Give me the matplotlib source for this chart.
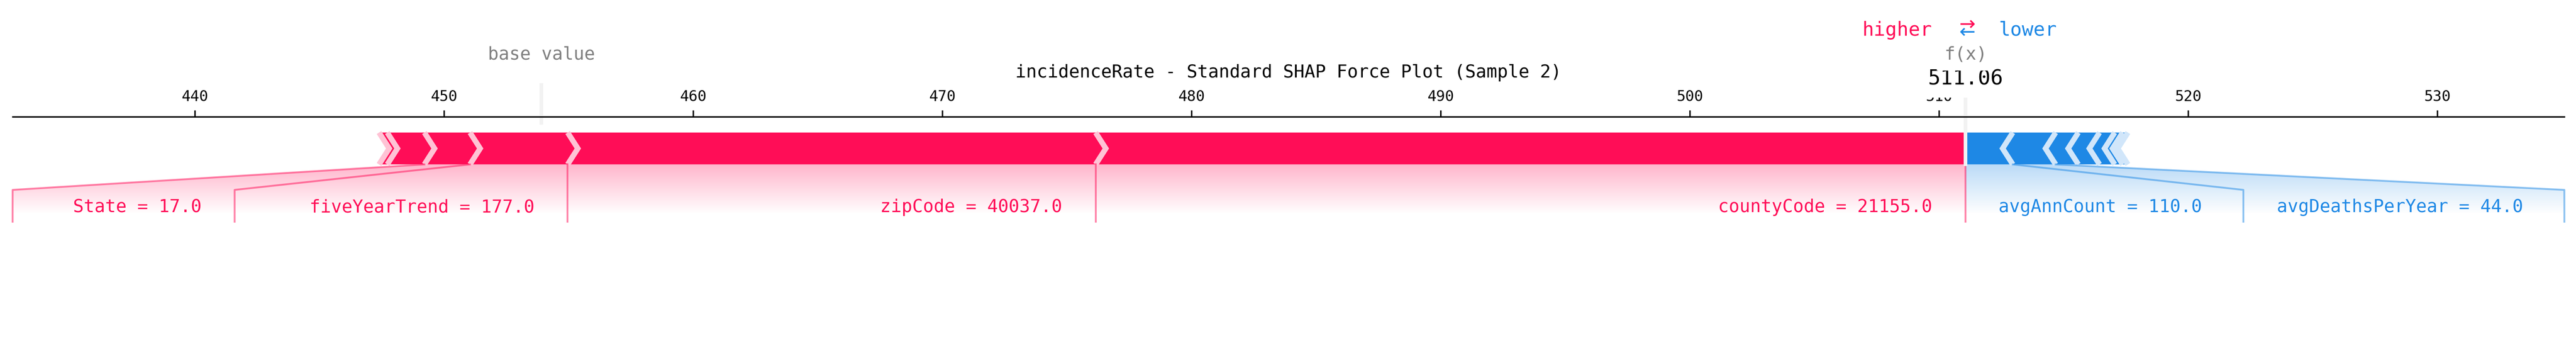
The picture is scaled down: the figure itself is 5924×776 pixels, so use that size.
import numpy as np
import matplotlib
matplotlib.use("Agg")
import matplotlib.pyplot as plt
from matplotlib import lines
from matplotlib.path import Path
from matplotlib.patches import PathPatch, Polygon
from matplotlib.colors import LinearSegmentedColormap

plt.rcParams['font.family'] = ['DejaVu Sans Mono', 'DejaVu Sans']

# ---------------- data ----------------
title = "incidenceRate - Standard SHAP Force Plot (Sample 2)"
out_name = "f(x)"
base_value = 453.91
out_value = 511.06

pos_names = ["countyCode", "zipCode", "fiveYearTrend", "State", "other_1", "other_2"]
pos_values = ["21155.0", "40037.0", "177.0", "17.0", "", ""]
pos_effects = [34.91, 21.19, 3.92, 1.83, 1.49, 0.33]

neg_names = ["avgAnnCount", "avgDeathsPerYear", "other_3", "other_4",
             "other_5", "other_6", "other_7"]
neg_values = ["110.0", "44.0", "", "", "", "", ""]
neg_effects = [-1.90, -1.72, -0.91, -0.85, -0.61, -0.32, -0.21]

# ---------------- style ----------------
K = 0.8205          # font scale so the monospace advance matches the reference
PAD = 0.3 / K       # bbox pad in font-size units
POS_COLORS = ['#FF0D57', '#FFC3D5']
NEG_COLORS = ['#1E88E5', '#D1E6FA']

pos_bounds = out_value - np.cumsum(np.abs(pos_effects))
neg_bounds = out_value + np.cumsum(np.abs(neg_effects))
total_pos = pos_bounds.max() - pos_bounds.min()
total_neg = neg_bounds.max() - neg_bounds.min()
offset_text = (total_neg + total_pos) * 0.04

# layout figure (as originally generated), resized at the end
fig, ax = plt.subplots(figsize=(20, 3), dpi=300)
ax.set_ylim(-0.5, 0.15)
padding = max(total_pos * 0.2, total_neg * 0.2)
min_x = min(pos_bounds.min(), base_value) - padding
max_x = max(neg_bounds.max(), base_value) + padding
ax.set_xlim(min_x, max_x)
ax.tick_params(top=True, bottom=False, left=False, right=False, labelleft=False,
               labeltop=True, labelbottom=False, labelsize=10 * K)
ax.locator_params(axis='x', nbins=12)
for key, sp in ax.spines.items():
    if key != 'top':
        sp.set_visible(False)

width_bar = 0.1
width_sep = (max_x - min_x) / 200


def draw_bars(bounds, feature_type):
    rects, seps = [], []
    pre = out_value
    for i, b in enumerate(bounds):
        if feature_type == 'positive':
            left, right = b, pre
            pre = left
            indent = abs(width_sep)
            sep_pos = left
            colors = POS_COLORS
        else:
            left, right = pre, b
            pre = right
            indent = -abs(width_sep)
            sep_pos = right
            colors = NEG_COLORS
        if i == 0:
            if feature_type == 'positive':
                pts = [[left, 0], [right, 0], [right, width_bar], [left, width_bar],
                       [left + indent, width_bar / 2]]
            else:
                pts = [[right, 0], [left, 0], [left, width_bar], [right, width_bar],
                       [right + indent, width_bar / 2]]
        else:
            pts = [[left, 0], [right, 0], [right + indent * 0.9, width_bar / 2],
                   [right, width_bar], [left, width_bar], [left + indent * 0.9, width_bar / 2]]
        rects.append(Polygon(pts, closed=True, fill=True, facecolor=colors[0], linewidth=0))
        seps.append(Polygon([[sep_pos, 0], [sep_pos + indent, width_bar / 2], [sep_pos, width_bar]],
                            closed=False, fill=False, edgecolor=colors[1], lw=3))
    return rects, seps


def draw_labels(bounds, names, values, feature_type, total_effect, min_perc=0.05):
    start_text = out_value
    pre_val = out_value
    if feature_type == 'positive':
        colors, align, sign = POS_COLORS, 'right', 1
        ln = lines.Line2D([pre_val, pre_val], [0, -0.18], lw=1., alpha=0.5, color=colors[0])
        ln.set_clip_on(False)
        ax.add_line(ln)
    else:
        colors, align, sign = NEG_COLORS, 'left', -1
    box_end = out_value
    for b, name, value in zip(bounds, names, values):
        if abs(b - pre_val) / abs(total_effect) < min_perc:
            break
        val = b
        t = ax.text(start_text - sign * offset_text, -0.15, name + ' = ' + value,
                    fontsize=12 * K, color=colors[0], ha=align, va='baseline')
        t.set_bbox(dict(facecolor='none', edgecolor='none', boxstyle='square,pad=%.4f' % PAD))
        fig.canvas.draw()
        box = t.get_bbox_patch().get_extents().transformed(ax.transData.inverted())
        box_end_ = box.get_points()[0][0] if feature_type == 'positive' else box.get_points()[1][0]
        if sign * box_end_ > sign * val:
            ln = lines.Line2D([val, val], [0, -0.18], lw=1., alpha=0.5, color=colors[0])
            ln.set_clip_on(False)
            ax.add_line(ln)
            start_text = val
            box_end = val
        else:
            box_end = box_end_ - sign * offset_text
            ln = lines.Line2D([val, box_end, box_end], [0, -0.08, -0.18],
                              lw=1., alpha=0.5, color=colors[0])
            ln.set_clip_on(False)
            ax.add_line(ln)
            start_text = box_end
        pre_val = b

    path = Path([[out_value, 0], [pre_val, 0], [box_end, -0.08],
                 [box_end, -0.2], [out_value, -0.2], [out_value, 0]])
    patch = PathPatch(path, facecolor='none', edgecolor='none')
    ax.add_patch(patch)

    lo, hi = ax.get_xlim()
    if box_end < lo:
        ax.set_xlim(box_end, hi)
    if box_end > hi:
        ax.set_xlim(lo, box_end)

    base_rgb = (255, 13, 87) if feature_type == 'positive' else (30, 136, 229)
    cm = LinearSegmentedColormap.from_list('cm', np.array([base_rgb, (255, 255, 255)]) / 255.)
    _, Z2 = np.meshgrid(np.linspace(0, 10), np.linspace(-10, 10))
    im = ax.imshow(Z2, interpolation='quadric', cmap=cm, vmax=0.01, alpha=0.3,
                   origin='lower', extent=[out_value, box_end, 0, -0.31],
                   clip_on=True, aspect='auto')
    im.set_clip_path(patch)


r, s = draw_bars(neg_bounds, 'negative')
for p in r + s:
    ax.add_patch(p)
r, s = draw_bars(pos_bounds, 'positive')
for p in r + s:
    ax.add_patch(p)

total_effect = total_neg + total_pos
draw_labels(neg_bounds, neg_names, neg_values, 'negative', total_effect)
draw_labels(pos_bounds, pos_names, pos_values, 'positive', total_effect)

# higher / lower legend
ax.text(out_value - offset_text, 0.405, 'higher', fontsize=13 * K, color='#FF0D57', ha='right')
ax.text(out_value + offset_text, 0.405, 'lower', fontsize=13 * K, color='#1E88E5', ha='left')
ax.text(out_value, 0.4, r'$\leftarrow$', fontsize=13 * K, color='#1E88E5', ha='center')
ax.text(out_value, 0.425, r'$\rightarrow$', fontsize=13 * K, color='#FF0D57', ha='center')

# base value
ln = lines.Line2D([base_value, base_value], [0.13, 0.25], lw=2., color='#F2F2F2')
ln.set_clip_on(False)
ax.add_line(ln)
t = ax.text(base_value, 0.33, 'base value', fontsize=12 * K, alpha=0.5, ha='center')
t.set_bbox(dict(facecolor='white', edgecolor='white', boxstyle='square,pad=%.4f' % PAD))

# output value
ln = lines.Line2D([out_value, out_value], [0, 0.24], lw=2., color='#F2F2F2')
ln.set_clip_on(False)
ax.add_line(ln)
t = ax.text(out_value, 0.25, '{0:.2f}'.format(out_value), fontsize=14 * K, ha='center')
t.set_bbox(dict(facecolor='white', edgecolor='white', boxstyle='square,pad=%.4f' % PAD))
t = ax.text(out_value, 0.33, out_name, fontsize=12 * K, alpha=0.5, ha='center')
t.set_bbox(dict(facecolor='white', edgecolor='white', boxstyle='square,pad=%.4f' % PAD))

# final canvas (tight layout of the original)
W, H = 5924, 776
fig.set_size_inches((W + 0.3) / 300, (H + 0.3) / 300)
ax.set_position([29 / W, 33 / H, 5868 / W, 475 / H])
ax.set_title(title, fontsize=12 * K, y=1.1895, pad=0)

fig.savefig('out.png', dpi=300)
